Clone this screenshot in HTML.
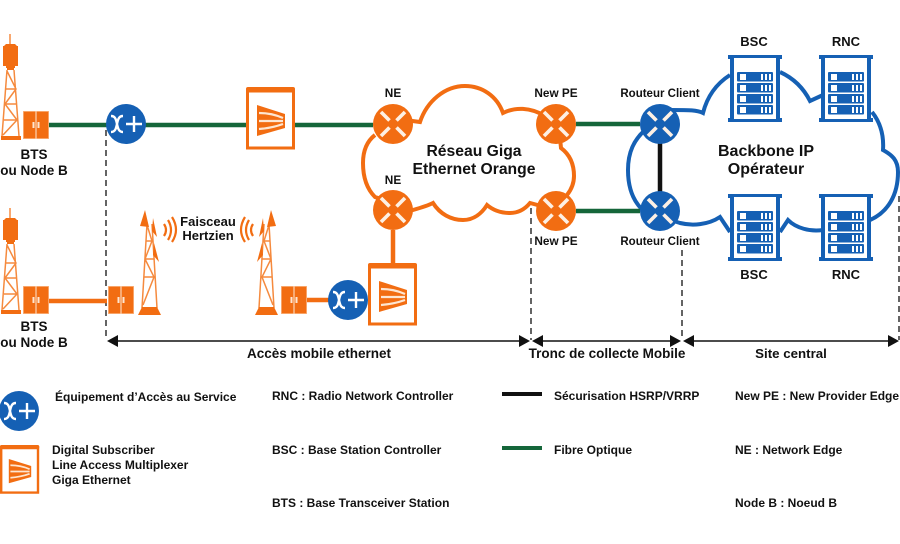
<!DOCTYPE html>
<html><head><meta charset="utf-8"><style>
html,body{margin:0;padding:0;background:#fff}
svg{display:block}
text{font-family:"Liberation Sans",sans-serif;font-weight:bold;fill:#111}
</style></head><body>
<svg width="900" height="544" viewBox="0 0 900 544" xmlns="http://www.w3.org/2000/svg">
<defs>
<g id="x"><path d="M-3.500-3.500L-12-12M3.500-3.500L12-12M-3.500 3.500L-12 12M3.500 3.500L12 12" stroke="#fdf0e4" stroke-width="3.600" fill="none"/></g>
<g id="eas"><circle r="20" fill="#1560b4"/><path d="M-15-8c4 0 5 3 6 8s2 8 6 8M-15 8c4 0 5-3 6-8s2-8 6-8M0 0H16M8-8V8" stroke="#fff" stroke-width="2.400" fill="none"/></g>
<g id="cab"><rect x=".4" y=".4" width="25.200" height="27.200" fill="#f26d12" stroke="#f9b27e" stroke-width=".8"/><path d="M13 0V28" stroke="#fbd5b5" stroke-width="1.200"/><path d="M10.500 11v6M15.500 11v6" stroke="#fde6d2" stroke-width="2"/></g>
<g id="dsl"><rect x="1.500" y="3" width="46" height="58" fill="#fff" stroke="#f26d12" stroke-width="3"/><rect x="0" y="0" width="49" height="5.500" rx="2" fill="#f26d12"/><path d="M11 18L39 27V41L11 49Z" fill="#f26d12"/><path d="M13 26Q26 26 37 31M13 34H37M13 42Q26 41 37 37" stroke="#fde6d2" stroke-width="2.200" fill="none"/></g>
<g id="tw"><path d="M10 0V10" stroke="#f26d12" stroke-width="1.200"/><path d="M6 10H15L17 12H18V32H15V34H6V32H3V12H4Z" fill="#f26d12"/><rect x="7" y="32" width="7" height="4" fill="#f26d12"/><path d="M7 36L2 102M14 36L19 102M7 37L16 55L5 70L17 86L3 101M6 55H16M5 70H17M4 86H18" stroke="#f58a3e" stroke-width="1.500" fill="none"/><rect x="1" y="102" width="20" height="4" fill="#f26d12"/></g>
<g id="rt"><path d="M8 19L3 103M13 19L18 103M8 20L13 36L6 54L15 72L4 100M7 36H14M6 54H15M5 72H16" stroke="#f58a3e" stroke-width="1.500" fill="none"/><path d="M-1 110L3 102H18L22 110Z" fill="#f26d12"/><path d="M6 5L10 22 1 21ZM14 13L18 32 13 26ZM15 38L20 57 14 50Z" fill="#f26d12"/></g>
<g id="srv"><rect x="0" y="0" width="54" height="4" fill="#1560b4"/><rect x="0" y="63" width="54" height="4" fill="#1560b4"/><path d="M4 3V64M50 3V64" stroke="#1560b4" stroke-width="4"/><rect x="6" y="3" width="42" height="61" fill="#fff"/>
<g fill="#1560b4"><rect x="9" y="17" width="36" height="9.500" rx="1"/><rect x="9" y="28" width="36" height="9.500" rx="1"/><rect x="9" y="39" width="36" height="9.500" rx="1"/><rect x="9" y="50" width="36" height="9.500" rx="1"/></g>
<g fill="#fff"><rect x="12" y="19" width="6" height="6"/><rect x="12" y="30" width="6" height="6"/><rect x="12" y="41" width="6" height="6"/><rect x="12" y="52" width="6" height="6"/><path d="M33 19h2v6h-2zM37 19h2v6h-2zM41 19h2v6h-2zM33 30h2v6h-2zM37 30h2v6h-2zM41 30h2v6h-2zM33 41h2v6h-2zM37 41h2v6h-2zM41 41h2v6h-2zM33 52h2v6h-2zM37 52h2v6h-2zM41 52h2v6h-2z"/></g></g>
</defs>

<!-- dashed lines -->
<g stroke="#222" stroke-width="1.400" stroke-dasharray="6 4" fill="none">
<path d="M106 130V340M531 208V340M682 250V340M899 196V340"/>
</g>

<!-- blue cloud -->
<path d="M645 130C634 140 628 152 628 170C628 190 634 203 645 212L680 223C692 226 708 225 720 217L730 232M780 232L788 220C796 228 810 232 823 230M870 220C888 212 898 195 898 172C898 160 892 155 883 150C884 135 880 122 872 112M823 95L810 101C803 87 793 78 780 72M730 75C716 84 707 97 703 113C697 110 690 110 670 110" fill="none" stroke="#1560b4" stroke-width="4"/>
<path d="M660 124V211" stroke="#111" stroke-width="4.500"/>

<!-- orange cloud -->
<path d="M375 135C366 142 363 152 363 163C363 178 367 189 375 197L413 210C420 208 427 206 433 203C440 214 451 220 463 220C474 220 482 213 487 205C494 211 502 213 510 213C518 213 525 209 530 203L545 207M567 195C571 190 574 184 574 176C574 163 569 154 561 148L560 138M545 116C530 107 515 107 503 113C497 96 482 86 465 86C445 86 427 101 420 122L405 120" fill="none" stroke="#f26d12" stroke-width="4"/>

<!-- green links -->
<g stroke="#15663a" stroke-width="4.500" fill="none">
<path d="M49 125H373M576 124H640M576 211H640"/>
</g>
<!-- orange links -->
<path d="M49 301H107M307 300H330M393 230V264" stroke="#f26d12" stroke-width="4.500" fill="none"/>

<!-- towers -->
<use href="#tw" x="0" y="34"/>
<use href="#tw" x="0" y="208"/>
<use href="#cab" x="23" y="111"/>
<use href="#cab" x="23" y="286"/>
<use href="#cab" x="108" y="286"/>
<use href="#cab" x="281" y="286"/>
<use href="#rt" x="139" y="205"/>
<g transform="translate(277 205) scale(-1 1)"><use href="#rt"/></g>
<path d="M164 224q4 6 0 12M168 220q6 10 0 20M172 217q8 13 0 25" stroke="#f26d12" stroke-width="2.200" fill="none"/>
<path d="M253 224q-4 6 0 12M249 220q-6 10 0 20M245 217q-8 13 0 25" stroke="#f26d12" stroke-width="2.200" fill="none"/>

<!-- EAS and DSLAM -->
<use href="#eas" x="126" y="124"/>
<use href="#eas" x="348" y="300"/>
<use href="#dsl" x="246" y="87"/>
<use href="#dsl" x="368" y="263"/>

<!-- routers -->
<g fill="#f26d12"><circle cx="393" cy="124" r="20"/><circle cx="393" cy="210" r="20"/><circle cx="556" cy="124" r="20"/><circle cx="556" cy="211" r="20"/></g>
<g fill="#1560b4"><circle cx="660" cy="124" r="20"/><circle cx="660" cy="211" r="20"/></g>
<use href="#x" x="393" y="124"/><use href="#x" x="393" y="210"/><use href="#x" x="556" y="124"/><use href="#x" x="556" y="211"/>
<use href="#x" x="660" y="124"/><use href="#x" x="660" y="211"/>

<!-- servers -->
<use href="#srv" x="728" y="55"/><use href="#srv" x="819" y="55"/>
<use href="#srv" x="728" y="194"/><use href="#srv" x="819" y="194"/>

<!-- arrow line -->
<path d="M115 341H522M540 341H674M691 341H890" stroke="#111" stroke-width="1.500"/>
<path d="M107 341L118 335V347ZM530 341L519 335V347ZM532 341L543 335V347ZM681 341L670 335V347ZM683 341L694 335V347ZM899 341L888 335V347Z" fill="#111"/>

<!-- labels -->
<g text-anchor="middle" font-size="13.500">
<text x="34" y="159">BTS</text><text x="34" y="175">ou Node B</text>
<text x="34" y="331">BTS</text><text x="34" y="347">ou Node B</text>
<text x="208" y="226" font-size="13">Faisceau</text><text x="208" y="240" font-size="13">Hertzien</text>
<text x="393" y="97" font-size="11.800">NE</text><text x="393" y="184" font-size="11.800">NE</text>
<text x="556" y="97" font-size="11.800">New PE</text><text x="556" y="245" font-size="11.800">New PE</text>
<text x="660" y="97" font-size="11.500">Routeur Client</text><text x="660" y="245" font-size="11.500">Routeur Client</text>
<text x="474" y="156" font-size="15.700">Réseau Giga</text><text x="474" y="174" font-size="15.700">Ethernet Orange</text>
<text x="766" y="156" font-size="16">Backbone IP</text><text x="766" y="174" font-size="16">Opérateur</text>
<text x="754" y="46" font-size="13">BSC</text><text x="846" y="46" font-size="13">RNC</text>
<text x="754" y="279" font-size="13">BSC</text><text x="846" y="279" font-size="13">RNC</text>
<text x="319" y="358">Accès mobile ethernet</text>
<text x="607" y="358">Tronc de collecte Mobile</text>
<text x="791" y="358" font-size="13.300">Site central</text>
</g>

<!-- legend -->
<use href="#eas" x="19" y="411"/>
<use href="#dsl" transform="translate(0 445) scale(.8 .78)"/>
<g font-size="12">
<text x="55" y="401">Équipement d’Accès au Service</text>
<text x="52" y="454">Digital Subscriber</text><text x="52" y="469">Line Access Multiplexer</text><text x="52" y="484">Giga Ethernet</text>
<text x="272" y="400">RNC : Radio Network Controller</text>
<text x="272" y="454">BSC : Base Station Controller</text>
<text x="272" y="507">BTS : Base Transceiver Station</text>
<text x="554" y="400">Sécurisation HSRP/VRRP</text>
<text x="554" y="454">Fibre Optique</text>
<text x="735" y="400">New PE : New Provider Edge</text>
<text x="735" y="454">NE : Network Edge</text>
<text x="735" y="507">Node B : Noeud B</text>
</g>
<path d="M502 394H542" stroke="#111" stroke-width="4"/>
<path d="M502 448H542" stroke="#15663a" stroke-width="4"/>
</svg>
</body></html>
